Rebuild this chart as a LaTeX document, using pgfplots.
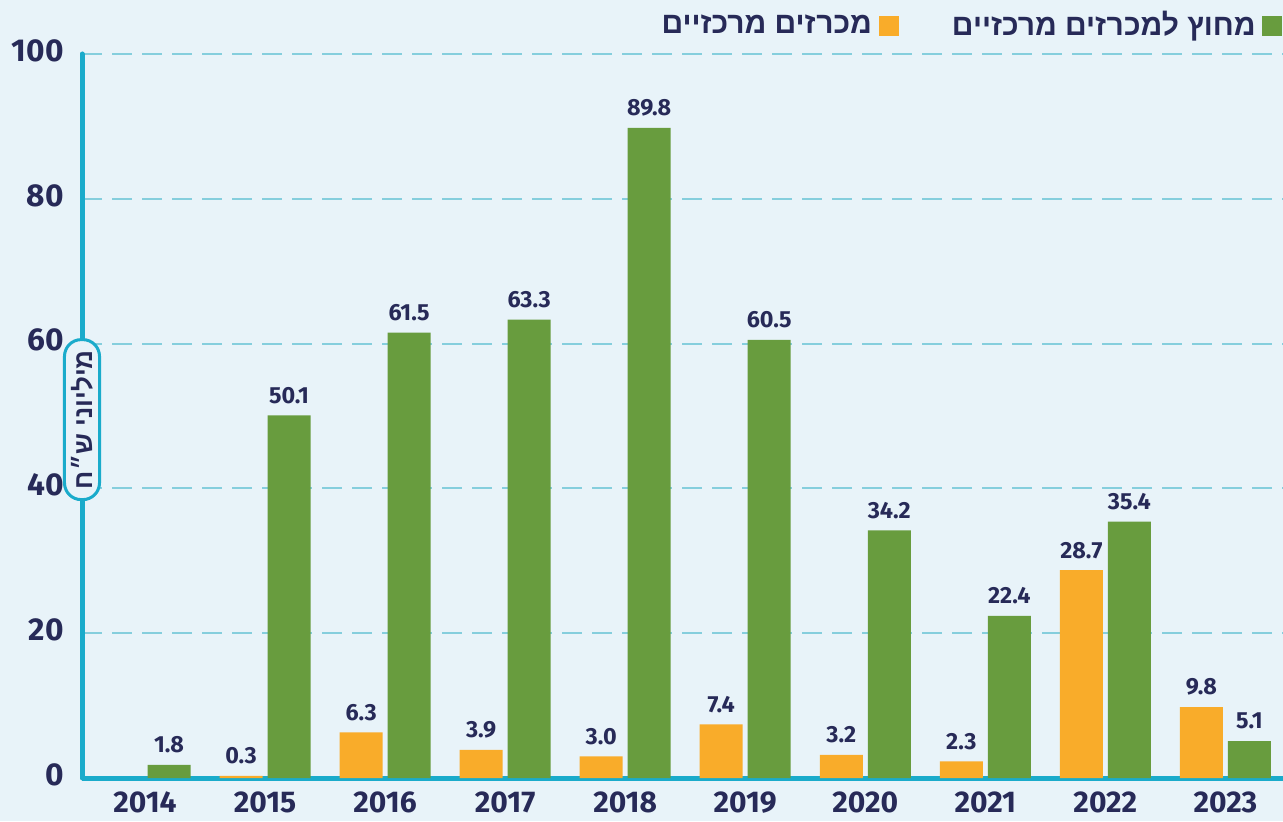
\documentclass[border=0pt]{standalone}
\usepackage{fontspec}
\setmainfont{Fira Sans}
\newfontfamily\hebfont[Script=Hebrew]{Liberation Sans}
\usepackage{pgfplots}
\pgfplotsset{compat=1.18}
\usetikzlibrary{backgrounds}
\TeXXeTstate=1
\definecolor{bgc}{HTML}{E8F3F9}
\definecolor{grn}{HTML}{689C3E}
\definecolor{org}{HTML}{F9AC2A}
\definecolor{axc}{HTML}{1AABCB}
\definecolor{grd}{HTML}{85CEDD}
\definecolor{txt}{HTML}{272A58}
\pgfplotsset{sqlegend/.style={legend image code/.code={\path[##1] (0pt,-3pt) rectangle (6pt,3pt);}}}
\begin{document}
\begin{tikzpicture}[show background rectangle, inner frame sep=0pt,
  background rectangle/.style={fill=bgc, draw=none}]
\begin{axis}[name=ax, scale only axis, width=360.3pt, height=217.2pt,
  ybar, bar width=12.9pt,
  xmin=-0.525, xmax=9.48, ymin=0, ymax=100,
  axis x line=bottom, axis y line=left,
  axis line style={draw=axc, line width=1.5pt, -},
  y axis line style={line cap=round},
  xtick={0,...,9},
  xticklabels={2014,2015,2016,2017,2018,2019,2020,2021,2022,2023},
  ytick={0,20,...,100},
  major tick length=0pt, tick style={draw=none},
  ymajorgrids, grid style={grd, line width=0.6pt, dash pattern=on 6pt off 3pt},
  /pgf/number format/assume math mode=true,
  ticklabel style={text=txt},
  yticklabel style={font=\bfseries\fontsize{9.5}{11}\selectfont, xshift=-2pt, yshift=1pt},
  xticklabel style={font=\bfseries\fontsize{9}{11}\selectfont, yshift=-0.5pt},
  nodes near coords,
  nodes near coords style={font=\bfseries\fontsize{7}{8}\selectfont, text=txt,
    /pgf/number format/.cd, fixed, fixed zerofill, precision=1},
  legend columns=2, legend plot pos=right, legend cell align=right,
  legend style={at={(rel axis cs:1,1)}, anchor=south east, xshift=3pt, yshift=-0.3pt,
    draw=none, fill=none, text=txt,
    font=\hebfont\bfseries\fontsize{9}{11}\selectfont,
    /tikz/every even column/.append style={column sep=14pt}},
  clip=false,
]
% central tenders
\addplot[fill=org, draw=none, bar shift=-7.2pt, sqlegend]
  coordinates {(1,0.3) (2,6.3) (3,3.9) (4,3.0) (5,7.4) (6,3.2) (7,2.3) (8,28.7) (9,9.8)};
% outside central tenders
\addplot[fill=grn, draw=none, bar shift=7.2pt, sqlegend]
  coordinates {(0,1.8) (1,50.1) (2,61.5) (3,63.3) (4,89.8) (5,60.5) (6,34.2) (7,22.4) (8,35.4) (9,5.1)};
\legend{\beginR מכרזים מרכזיים\endR, \beginR מחוץ למכרזים מרכזיים\endR}
\node[rotate=90, draw=axc, line width=0.9pt, fill=bgc, rounded corners=5pt,
  minimum width=48pt, minimum height=10.5pt, inner sep=1.5pt, text=txt,
  font=\hebfont\bfseries\fontsize{7.8}{9}\selectfont]
  at (rel axis cs:0,0.495) {\beginR מיליוני ש״ח\endR};
\end{axis}
\pgfresetboundingbox
\path[use as bounding box] ([xshift=-24.6pt,yshift=-13pt]ax.south west)
  rectangle ([yshift=16.2pt]ax.north east);
\end{tikzpicture}
\end{document}
